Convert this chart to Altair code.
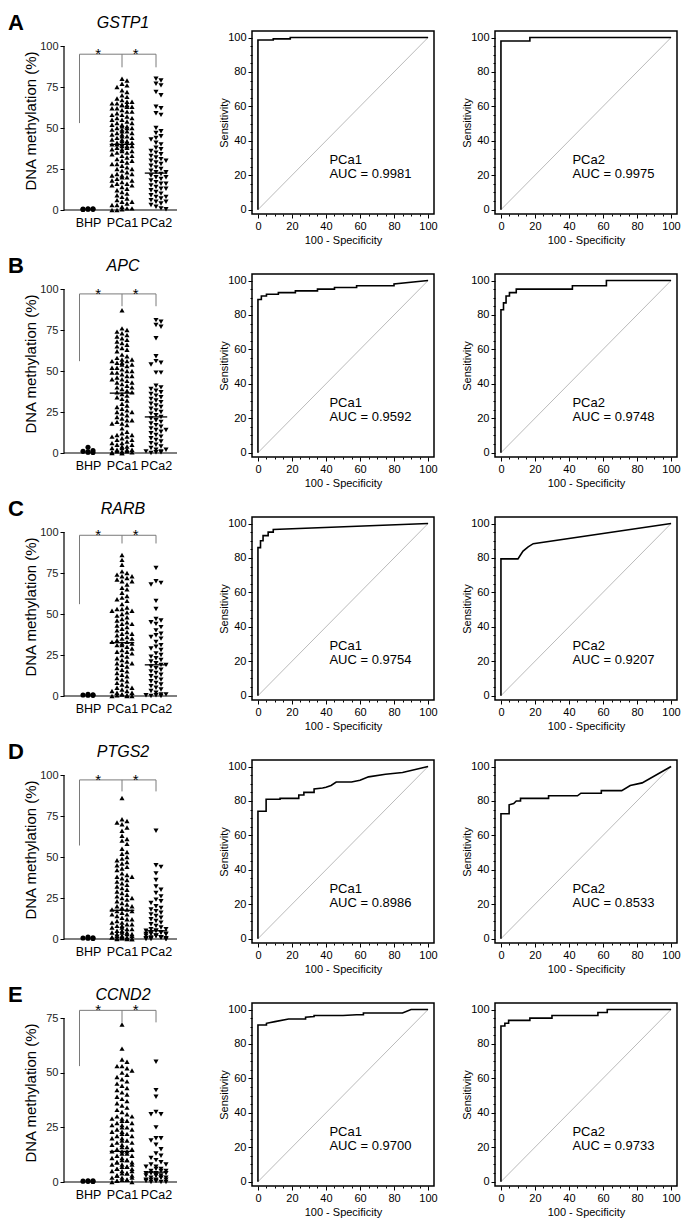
import altair as alt
import pandas as pd

FONT = "Liberation Sans"

GENES = ["GSTP1", "APC", "RARB", "PTGS2", "CCND2"]
LETTERS = ["A", "B", "C", "D", "E"]
GROUPS = ["BHP", "PCa1", "PCa2"]
YTOP = [100, 100, 100, 100, 75]

# ---------------- dot-plot values (DNA methylation %) ----------------
GSTP1_BHP = [0.3, 0.6, 0.4, 0.8, 0.5, 0.7]
GSTP1_PCA1 = [80, 79, 77, 76, 75, 73, 72, 70, 69, 68, 67, 66, 66, 65, 65, 64, 64, 64, 63, 63,
              62, 62, 61, 60, 60, 59, 58, 58, 57, 56, 56, 55, 55, 54, 53, 53, 52, 52, 51, 51,
              50, 50, 50, 49, 49, 48, 48, 47, 47, 46, 46, 45, 45, 44, 44, 43, 43, 42, 42, 41,
              41, 41, 40, 40, 40, 39, 39, 39, 38, 38, 37, 37, 36, 36, 35, 35, 34, 33, 33, 32,
              31, 30, 30, 29, 28, 28, 27, 26, 25, 25, 24, 23, 22, 22, 21, 21, 20, 20, 19, 18,
              18, 17, 16, 16, 15, 15, 14, 13, 12, 11, 10, 9, 8, 7, 6, 5, 5, 4, 3, 3, 2, 1, 1,
              0.5, 0, 0]
GSTP1_PCA2 = [80, 79, 77, 76, 72, 70, 63, 62, 59, 58, 50, 48, 47, 45, 44, 43, 41, 40, 38, 37,
              36, 35, 34, 33, 32, 31, 30, 30, 29, 28, 27, 26, 25, 24, 23, 23, 22, 21, 20, 20,
              19, 18, 17, 16, 16, 15, 14, 13, 13, 12, 11, 10, 9, 8, 8, 7, 6, 5, 5, 4, 3, 2, 1, 0.5]

APC_BHP = [0.3, 0.8, 1.5, 3.5, 0.5, 1.0]
APC_PCA1 = [87, 76, 75, 74, 73, 72, 71, 70, 69, 68, 67, 66, 65, 64, 63, 62, 60, 59, 58, 57,
            57, 56, 56, 55, 55, 54, 54, 53, 52, 52, 51, 50, 50, 49, 49, 48, 47, 47, 46, 45,
            45, 44, 43, 43, 42, 41, 40, 40, 39, 38, 37, 37, 36, 35, 34, 33, 32, 30, 29, 28,
            27, 26, 25, 25, 24, 23, 22, 21, 20, 20, 19, 18, 18, 17, 15, 13, 12, 11, 11, 10,
            10, 9, 8, 8, 7, 6, 6, 5, 5, 4, 4, 3, 3, 2, 2, 2, 1, 1, 1, 0.5, 0.5, 0, 0, 0]
APC_PCA2 = [81, 80, 78, 77, 70, 59, 56, 55, 54, 49, 49, 41, 40, 39, 38, 37, 36, 35, 34, 33,
            32, 31, 30, 29, 28, 27, 26, 25, 24, 23, 22, 21, 20, 19, 18, 17, 16, 15, 14, 14,
            13, 12, 11, 10, 9, 8, 7, 6, 5, 4, 3, 2, 2, 1, 1, 0.5, 0.5, 0]

RARB_BHP = [0.4, 0.7, 0.5, 1.0, 0.6]
RARB_PCA1 = [86, 83, 80, 76, 75, 74, 73, 73, 72, 71, 70, 70, 68, 66, 65, 63, 61, 60, 59, 58,
             56, 54, 53, 53, 52, 52, 51, 50, 49, 48, 47, 46, 45, 44, 44, 43, 42, 41, 40, 39,
             38, 38, 37, 36, 35, 35, 34, 33, 33, 32, 32, 31, 31, 30, 29, 28, 27, 27, 26, 25,
             24, 23, 22, 21, 20, 20, 19, 18, 17, 16, 15, 14, 13, 12, 11, 10, 9, 8, 7, 6, 5, 5,
             4, 3, 3, 2, 2, 1, 1, 0.5, 0.5, 0, 0, 0]
RARB_PCA2 = [78, 70, 69, 68, 58, 53, 47, 46, 45, 44, 42, 40, 38, 37, 36, 35, 33, 31, 30, 29,
             28, 26, 25, 24, 23, 22, 21, 20, 19, 19, 18, 17, 16, 15, 14, 13, 12, 11, 10, 9, 8,
             7, 6, 5, 4, 3, 2, 1, 1, 0.5, 0.5, 0, 0]

PTGS2_BHP = [0.3, 0.8, 0.5, 1.2, 0.6]
PTGS2_PCA1 = [86, 73, 72, 71, 70, 68, 66, 63, 61, 60, 58, 55, 53, 52, 50, 49, 48, 47, 46, 45,
              44, 43, 42, 40, 39, 38, 38, 37, 36, 35, 34, 33, 32, 31, 30, 29, 28, 27, 26, 25,
              25, 24, 23, 22, 21, 20, 20, 19, 18, 18, 17, 17, 16, 15, 15, 14, 13, 12, 12, 11,
              10, 10, 9, 9, 8, 8, 7, 7, 6, 6, 5, 5, 4, 4, 4, 3, 3, 3, 2, 2, 2, 1, 1, 1, 1, 0.5,
              0.5, 0.5, 0, 0, 0, 0]
PTGS2_PCA2 = [66, 45, 44, 40, 36, 32, 30, 28, 26, 24, 23, 22, 20, 19, 18, 17, 16, 15, 14, 13,
              12, 11, 10, 9, 8, 7, 6, 6, 5, 5, 5, 4, 4, 4, 3, 3, 3, 3, 2, 2, 2, 2, 1, 1, 1, 1,
              0.5, 0.5, 0.5, 0, 0, 0, 0]

CCND2_BHP = [0.3, 0.5, 0.4, 0.6, 0.2]
CCND2_PCA1 = [72, 61, 56, 55, 53, 53, 52, 51, 50, 49, 48, 47, 46, 45, 44, 43, 42, 41, 40, 39,
              38, 37, 36, 35, 34, 33, 32, 31, 30, 30, 29, 29, 28, 28, 27, 27, 26, 26, 25, 25,
              24, 24, 23, 23, 22, 22, 21, 21, 20, 20, 19, 19, 18, 18, 17, 17, 16, 16, 15, 15,
              14, 14, 14, 13, 13, 12, 12, 11, 11, 10, 10, 10, 9, 9, 9, 8, 8, 8, 7, 7, 7, 6, 6,
              6, 5, 5, 5, 4, 4, 4, 3, 3, 3, 2, 2, 2, 1, 1, 1, 0.5, 0.5, 0, 0]
CCND2_PCA2 = [55, 42, 39, 32, 31, 31, 25, 20, 20, 19, 17, 15, 13, 12, 11, 10, 9, 8, 8, 7, 7,
              6, 6, 5, 5, 5, 4, 4, 4, 4, 3, 3, 3, 3, 2, 2, 2, 2, 1, 1, 1, 1, 0.5, 0.5, 0.5, 0,
              0, 0]

DOT = [
    [GSTP1_BHP, GSTP1_PCA1, GSTP1_PCA2],
    [APC_BHP, APC_PCA1, APC_PCA2],
    [RARB_BHP, RARB_PCA1, RARB_PCA2],
    [PTGS2_BHP, PTGS2_PCA1, PTGS2_PCA2],
    [CCND2_BHP, CCND2_PCA1, CCND2_PCA2],
]
MEDIAN_PCA1 = [40, 36.5, 32.5, 17.5, 14]
MEDIAN_PCA2 = [22.5, 22, 19, 5, 4.5]
BRACKET_Y = [95, 97, 98, 97, 78.5]
BRACKET_BHP_LEG = [53, 56, 56, 57, 53]
BRACKET_PCA_LEG = [87, 89.5, 93, 90, 73]

# ---------------- ROC curves (100 - specificity, sensitivity) ----------------
ROC_X = [
    [[0, 0, 9, 9, 19, 19, 100], [0, 0, 17, 17, 100]],
    [[0, 0, 2, 2, 5, 5, 12, 12, 22, 22, 35, 35, 45, 45, 58, 58, 80, 80, 100],
     [0, 0, 1.5, 1.5, 3, 3, 5, 5, 9, 9, 42, 42, 62, 62, 100]],
    [[0, 0, 1.5, 1.5, 3, 3, 6, 6, 9, 9, 100],
     [0, 0, 10, 11, 13, 16, 19, 100]],
    [[0, 0, 4.8, 4.8, 13, 13, 24, 24, 27, 27, 33, 33, 38, 40, 43, 46, 55, 60, 65, 75, 85, 100],
     [0, 0, 4.8, 4.8, 7.5, 9, 11.5, 11.5, 28, 28, 45, 47, 59, 59, 71, 76, 83, 100]],
    [[0, 0, 5, 5, 10, 18, 28, 28, 33, 33, 50, 58, 62, 62, 85, 90, 100],
     [0, 0, 2.3, 2.3, 4.5, 4.5, 17, 17, 30, 30, 57, 57, 62.5, 62.5, 100]],
]
ROC_Y = [
    [[0, 98.6, 98.6, 99.2, 99.2, 100, 100], [0, 98, 98, 100, 100]],
    [[0, 89, 89, 91, 91, 92, 92, 93, 93, 94, 94, 95, 95, 96, 96, 97, 97, 98, 100],
     [0, 83, 83, 87, 87, 91, 91, 93, 93, 95, 95, 97, 97, 100, 100]],
    [[0, 86, 86, 90, 90, 93, 93, 95, 95, 96.5, 100],
     [0, 79.5, 79.5, 81, 84, 86.5, 88.3, 100]],
    [[0, 74, 74, 81, 81, 81.5, 81.5, 83.5, 83.5, 85, 85, 87, 87.5, 88, 89, 91, 91, 92, 94, 95.5, 96.5, 100],
     [0, 72.6, 72.6, 77.8, 78.5, 80, 80, 81.5, 81.5, 83, 83, 84.5, 84.5, 86, 86, 89, 90.5, 100]],
    [[0, 91, 91, 92, 93, 94.5, 94.5, 95.5, 96, 96.5, 96.5, 97, 97, 98, 98, 100, 100],
     [0, 90.4, 90.4, 92, 92, 93.7, 93.7, 95, 95, 96.5, 96.5, 98.3, 98.3, 100, 100]],
]
AUC = [["0.9981", "0.9975"], ["0.9592", "0.9748"], ["0.9754", "0.9207"],
       ["0.8986", "0.8533"], ["0.9700", "0.9733"]]
ROC_GROUPS = ["PCa1", "PCa2"]

# ---------------- layout constants ----------------
W_DOT = 127
H_DOT = 179          # plot height of the dot panel
SPAN = 164           # pixels between 0 and the top tick
PXU = 34.0           # pixels per group step
XMIN = 1 - 24 / PXU
XMAX = XMIN + W_DOT / PXU
XEND = XMIN + 113 / PXU
W_ROC = 182
H_ROC = 183
HALF_WIDTH = [8.5, 11.5, 10.5]   # max swarm half width (px) per group


def swarm(values, ppu_y, maxw, dx=5.0, dy=4.4):
    order = sorted(range(len(values)), key=lambda k: -values[k])
    placed = []
    offs = [0.0] * len(values)
    cands = [0.0]
    m = 1
    while m * dx / 2 <= maxw:
        cands += [m * dx / 2, -m * dx / 2]
        m += 1
    for k in order:
        y = values[k] * ppu_y
        best, bestn = 0.0, 10 ** 9
        for c in cands:
            n = sum(1 for px, py in placed if abs(c - px) < dx and abs(y - py) < dy)
            if n < bestn:
                best, bestn = c, n
            if n == 0:
                break
        offs[k] = best
        placed.append((best, y))
    return [o / PXU for o in offs]


def dot_panel(r):
    top = YTOP[r]
    ppu = SPAN / top
    ymax = top * H_DOT / SPAN
    xs = alt.Scale(domain=[XMIN, XMAX], nice=False, zero=False)
    ys = alt.Scale(domain=[0, ymax], nice=False, zero=False)
    rows = []
    for gi, vals in enumerate(DOT[r]):
        offs = swarm(vals, ppu, HALF_WIDTH[gi])
        for v, o in zip(vals, offs):
            rows.append({"g": GROUPS[gi], "gx": gi + 1 + o, "v": v})
    df = pd.DataFrame(rows)
    yticks = list(range(0, top + 1, 25))
    xax = alt.Axis(values=[1, 2, 3], labelExpr="['','BHP','PCa1','PCa2'][datum.value]",
                   title=None, domain=False, ticks=False, tickSize=0, labelFontSize=12.5,
                   labelPadding=6, labelColor="black", labelAngle=0, grid=False,
                   labelFont=FONT)
    yax = alt.Axis(values=yticks, title="DNA methylation (%)", domain=False, tickSize=4,
                   tickColor="black", labelFontSize=11, labelPadding=2, labelColor="#222",
                   titleFontSize=15, titlePadding=4, minExtent=22, maxExtent=22, grid=False,
                   titleFontWeight="normal", labelFont=FONT, titleFont=FONT,
                   titleColor="black")

    def X(f):
        return alt.X(f, scale=xs, axis=xax)

    def Y(f):
        return alt.Y(f, scale=ys, axis=yax)

    pts = alt.Chart(df).mark_point(filled=True, size=26, opacity=1, color="black",
                                   strokeWidth=0).encode(
        x=X("gx:Q"), y=Y("v:Q"),
        shape=alt.Shape("g:N", scale=alt.Scale(domain=GROUPS,
                        range=["circle", "triangle-up", "triangle-down"]), legend=None),
    )
    axes_df = pd.DataFrame({"gx": [XMIN, XMIN], "x2": [XEND, XMIN],
                            "v": [0, 0], "y2": [0, top]})
    axes = alt.Chart(axes_df).mark_rule(color="black", strokeWidth=1.2).encode(
        x=X("gx:Q"), x2="x2:Q", y=Y("v:Q"), y2="y2:Q")

    b = BRACKET_Y[r]
    br_df = pd.DataFrame({
        "gx": [0.75, 0.75, 2, 3],
        "x2": [3, 0.75, 2, 3],
        "v": [b, b, b, b],
        "y2": [b, BRACKET_BHP_LEG[r], BRACKET_PCA_LEG[r], BRACKET_PCA_LEG[r]],
    })
    brackets = alt.Chart(br_df).mark_rule(color="#7a7a7a", strokeWidth=1).encode(
        x=X("gx:Q"), x2="x2:Q", y=Y("v:Q"), y2="y2:Q")
    stars = alt.Chart(pd.DataFrame({"gx": [1.3, 2.4], "v": [b, b], "t": ["*", "*"]})).mark_text(
        fontSize=15, baseline="alphabetic", dy=5, color="black", font=FONT).encode(
        x=X("gx:Q"), y=Y("v:Q"), text="t:N")

    med_df = pd.DataFrame({"gx": [2 - 0.36, 3 - 0.33], "x2": [2 + 0.36, 3 + 0.33],
                           "v": [MEDIAN_PCA1[r], MEDIAN_PCA2[r]]})
    meds = alt.Chart(med_df).mark_rule(color="black", strokeWidth=1.3).encode(
        x=X("gx:Q"), x2="x2:Q", y=Y("v:Q"))

    letter = alt.Chart(pd.DataFrame({"t": [LETTERS[r]]})).mark_text(
        align="left", baseline="alphabetic", fontSize=22, fontWeight="bold",
        color="black", font=FONT).encode(x=alt.value(-56), y=alt.value(-1), text="t:N")
    title = alt.Chart(pd.DataFrame({"t": [GENES[r]]})).mark_text(
        align="center", baseline="alphabetic", fontSize=16, fontStyle="italic",
        color="black", font=FONT).encode(x=alt.value(59), y=alt.value(-3), text="t:N")

    return alt.layer(axes, brackets, pts, meds, stars, letter, title).properties(
        width=W_DOT, height=H_DOT)


def roc_panel(r, c):
    xs = alt.Scale(domain=[-3.5, 103.5], nice=False, zero=False)
    ys = alt.Scale(domain=[-2.5, 103.8], nice=False, zero=False)
    minor = list(range(0, 101, 5))
    tsize = {"condition": {"test": "datum.value % 20 === 0", "value": 4}, "value": 2}
    lab = "datum.value % 20 === 0 ? datum.label : ''"
    xax = alt.Axis(values=minor, labelExpr=lab, title="100 - Specificity", domain=False,
                   tickSize=tsize, tickColor="black", labelFontSize=11, labelPadding=2,
                   titleFontSize=11, titlePadding=3, grid=False, labelColor="black",
                   titleFontWeight="normal", labelFlush=False, labelOverlap=False,
                   labelFont=FONT, titleFont=FONT, titleColor="black")
    yax = alt.Axis(values=minor, labelExpr=lab, title="Sensitivity", domain=False,
                   tickSize=tsize, tickColor="black", labelFontSize=11, labelPadding=2,
                   titleFontSize=11, titlePadding=1, grid=False, labelColor="black",
                   minExtent=22, maxExtent=22, titleFontWeight="normal",
                   labelFlush=False, labelOverlap=False, labelFont=FONT, titleFont=FONT,
                   titleColor="black")

    def X(f):
        return alt.X(f, scale=xs, axis=xax)

    def Y(f):
        return alt.Y(f, scale=ys, axis=yax)

    df = pd.DataFrame({"fx": ROC_X[r][c], "sy": ROC_Y[r][c],
                       "i": list(range(len(ROC_X[r][c])))})
    diag = alt.Chart(pd.DataFrame({"fx": [0, 100], "sy": [0, 100]})).mark_line(
        color="#a8a8a8", strokeWidth=0.8).encode(x=X("fx:Q"), y=Y("sy:Q"))
    curve = alt.Chart(df).mark_line(color="black", strokeWidth=1.6).encode(
        x=X("fx:Q"), y=Y("sy:Q"), order="i:Q")
    txt = alt.Chart(pd.DataFrame({"fx": [42, 42], "sy": [29, 20.5],
                                  "t": [ROC_GROUPS[c], "AUC = " + AUC[r][c]]})).mark_text(
        align="left", baseline="middle", fontSize=13, color="black", font=FONT).encode(
        x=X("fx:Q"), y=Y("sy:Q"), text="t:N")
    return alt.layer(diag, curve, txt).properties(
        width=W_ROC, height=H_ROC,
        view=alt.ViewBackground(stroke="black", strokeWidth=1.5))


cells = []
for r in range(5):
    cells.append(dot_panel(r))
    cells.append(roc_panel(r, 0))
    cells.append(roc_panel(r, 1))

chart = alt.concat(*cells, columns=3, spacing={"row": 60, "column": 61},
                   bounds="flush", align="each").properties(
    padding={"top": 4, "left": 0, "right": 0, "bottom": 0}, background="white"
).configure(font=FONT).configure_view(stroke=None)

chart.save("out.html", embed_options={"renderer": "svg", "actions": False})
